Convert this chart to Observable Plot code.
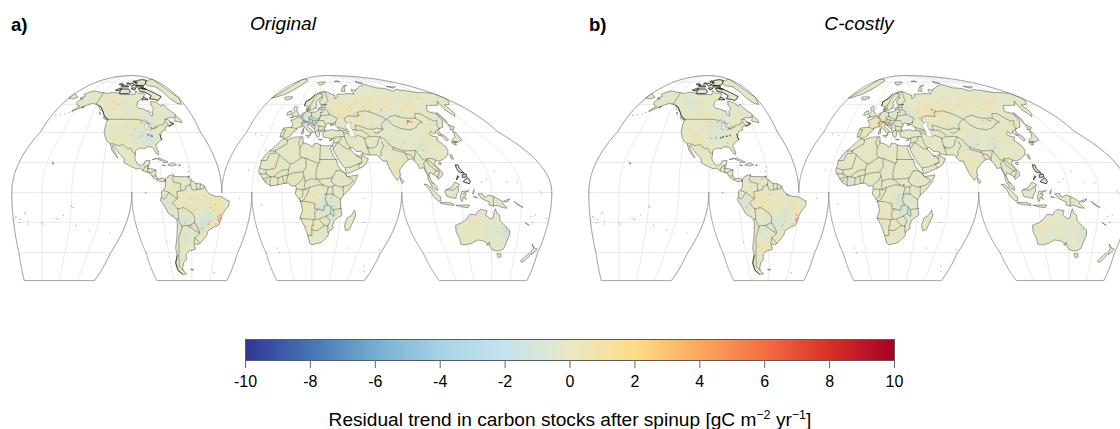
<!DOCTYPE html>
<html><head><meta charset="utf-8">
<script src="https://cdn.jsdelivr.net/npm/d3@7"></script>
<script src="https://cdn.jsdelivr.net/npm/@observablehq/plot@0.6"></script>
<style>
html,body{margin:0;padding:0;background:#fff}
#page{position:relative;width:1120px;height:429px;overflow:hidden;font-family:"Liberation Sans",Arial,sans-serif;color:#000}
#page>svg,#page>div{position:absolute}
.soft{filter:blur(2.4px)}
sup{font-size:12.5px;line-height:0}
</style></head><body><div id="page"></div>
<script>
// ---------- data: land outlines in lon/lat ----------
const northAmerica=[[-166,68.5],[-162,70],[-156.5,71.3],[-150,70.5],[-141,69.6],[-135,69],[-128,70],[-122,69.8],[-115,68],[-108,68],[-102,68],[-96,68],[-94,71.5],[-90,69],[-85,69.5],[-81.5,68.5],[-85,66],[-87,64.5],[-93,62],[-94.5,59],[-92.5,57],[-88,56.5],[-85,55.3],[-82,55],[-82,52.9],[-80,51.2],[-79,52],[-79,54.5],[-76.5,57],[-78,59],[-77.5,62.4],[-73,62],[-70,61],[-67,58.5],[-64.5,60.3],[-61,56],[-56,52.5],[-59,50],[-65,50.2],[-69,48.5],[-65,49],[-64.5,47.5],[-61,46],[-64,44.5],[-66,44],[-66,45],[-70,43.5],[-70,41.7],[-74,40.6],[-75.5,38],[-76,36.9],[-75.5,35.2],[-78,33.9],[-81,32],[-81.4,30.5],[-80,26.8],[-80.5,25.2],[-81.8,26],[-82.8,28],[-84,30],[-86,30.4],[-89,30.3],[-90,29.2],[-94,29.6],[-97,28],[-97.4,25],[-97.8,22.5],[-96,19],[-94.5,18.2],[-91.8,18.5],[-90.5,21],[-87,21.5],[-87.5,19],[-88.5,17],[-88.8,15.9],[-86,15.9],[-83.3,15],[-83.7,11],[-82,9],[-79.5,9.6],[-77.4,8.7],[-77.8,7.5],[-80,7.3],[-81,7.5],[-83,8.3],[-85.7,10],[-87.6,13],[-91.5,14],[-94.5,16.2],[-97,15.8],[-101,17.5],[-105.5,20],[-105.5,22.5],[-109,25.5],[-112.5,29.5],[-114.7,31.5],[-114.7,30],[-112,26],[-110,23],[-112,24.8],[-115,28],[-117,32.5],[-120.5,34.5],[-122.5,37.5],[-124.3,40.5],[-124,46],[-122.8,49],[-127,51],[-130,54.5],[-134,58],[-139,60],[-146,60.8],[-152,59],[-158,56.5],[-163,54.8],[-158,58.5],[-162,59.5],[-165,61.5],[-164,63.5],[-161,64.5],[-166,65],[-162,66.5],[-166,68.5]];
const southAmerica=[[-77.4,8.7],[-75.5,10.8],[-72,12],[-71.5,10.8],[-68,10.6],[-64,10.5],[-62,10.7],[-60,8.5],[-57,6],[-54,5.8],[-51.5,4.3],[-50,1],[-48.5,-0.8],[-44.5,-2.5],[-40,-2.9],[-37,-4.8],[-35,-5.5],[-35,-9],[-37.5,-12],[-39,-15],[-39.5,-18],[-41,-22],[-44,-23],[-48,-25.5],[-48.7,-28.5],[-52,-32.5],[-54,-34.5],[-58,-34.5],[-57,-38],[-62,-39],[-65,-41],[-65,-45],[-67.5,-46.5],[-69,-51],[-68.5,-52.5],[-65.5,-55],[-70,-55.3],[-74,-52.5],[-75.5,-47],[-73,-42],[-73.5,-37],[-71.5,-30],[-70.2,-20],[-71,-17.5],[-76,-14],[-79,-8],[-81.2,-5],[-80,-2.5],[-80.2,0.5],[-78.5,2],[-77.5,4],[-77.5,7.5],[-77.4,8.7]];
const africa=[[-5.8,35.8],[-2,35.2],[3,36.9],[10,37.2],[11,34],[10.3,33.5],[15,32.3],[19,30.3],[20,32.5],[23,32.7],[25,31.6],[29,31],[32,31.2],[34.2,31.3],[32.5,29.9],[35,24],[37.2,21],[37.5,18.5],[39.5,15.5],[43,12.3],[44,10.5],[51.2,11.8],[49,7],[45,2],[41,-1.8],[39,-5],[39.5,-10],[40.7,-15],[36,-18.5],[35,-22],[35.5,-24],[32.7,-26],[32.3,-29],[28,-33],[25,-34],[20,-34.8],[18.3,-33.8],[17,-29],[14.5,-22],[11.8,-17],[13.6,-12],[13,-8],[12,-5],[9,-1],[9.7,3.5],[8.5,4.5],[6,4.3],[4.5,6.3],[1,6],[-3,5],[-7.5,4.4],[-11,6.5],[-13.5,9.5],[-17,14.7],[-16.5,19],[-17,21],[-14.5,26],[-13,27.7],[-9.8,31],[-8,33.5],[-5.8,35.8]];
const eurasia=[[-9,37],[-9.5,38.8],[-9,43],[-2,43.5],[-1.2,45.5],[-4.5,48.4],[-1.5,48.8],[1.5,50.5],[4,52],[5.5,53.3],[8.5,54],[8.2,57],[10.5,57.6],[10,54.6],[14,54],[19,54.4],[21,55.5],[21.5,57.5],[24,57.2],[23.5,59.3],[30,59.9],[23,60],[21.5,61.5],[21.5,63.5],[25,65.5],[22,65.8],[17.5,62],[17.5,60.5],[18.5,59.5],[16.5,56.5],[14,55.5],[12.7,56],[11,59],[8,58],[5.5,59],[5,62],[10,64.5],[14,68],[20,70],[26,71],[31,70],[41,67],[40,64.5],[44,66],[44,68.3],[54,68.5],[60,69],[68,68.5],[67,71.5],[70,73],[73,71],[75,72.5],[81,73.5],[88,75.5],[100,77],[105,77.5],[113,74],[125,73.5],[130,71],[140,72.5],[150,71.5],[160,69.7],[170,69.8],[180,69],[180,65],[177,62.5],[170,60],[163,59.5],[162,56],[160,53],[156.7,51],[155.7,56],[160,60.5],[163,62.5],[155,59.3],[142,59.2],[135,54.7],[141,53],[140,48],[135,43.5],[130,42.5],[127.5,39.8],[129.5,37],[129,35],[126.5,34.5],[126.5,37.5],[124.5,40],[121.5,39],[121.5,40.8],[118,39],[119,37.5],[122.5,37],[119.5,35],[122,31],[121.5,28],[119,25],[114,22.3],[110.5,21],[108,21.6],[106,19],[109,14],[109,11.5],[105,8.7],[105,10.5],[102,12.5],[100.7,13.5],[99.5,11],[100.5,7],[103.5,4],[104,1.4],[101,3],[98.5,8],[98.5,12],[97.5,16.5],[94.5,16],[94,19],[91.5,22.5],[88.5,21.7],[87,21],[85,19.5],[80.3,15],[80,11],[77.5,8],[75,12],[73,18],[72.7,21],[70,21],[69,22.5],[67,25],[61.5,25],[57,25.8],[56.5,27],[52,27.5],[50,30],[48,30],[48,28.8],[50,26.5],[51.5,25],[54,24.2],[56.3,26],[56.5,24.5],[59.8,22.5],[57.7,19],[55,17],[52,15.7],[45,12.8],[43.4,12.7],[42.7,16],[39,21],[35,28],[34.9,29.5],[34.2,31.3],[35,33],[36,36],[32.5,36],[30.5,36.5],[27.3,37],[26.3,39.5],[29,41],[35,42],[38,41],[41.5,41.5],[39,44],[37,45.2],[38.5,47],[35,46],[33.5,46],[36.5,45.3],[33.5,44.5],[33,46],[30.7,46.5],[28.7,44.5],[28,42],[29,41.2],[26.2,40.8],[23.5,40.5],[24,38],[22.8,36.6],[21.2,37.5],[19.4,41],[19,42.2],[15,44.5],[13.7,45.6],[12.3,45.3],[12.5,44],[16,41.7],[18.5,40.2],[16.8,40.3],[16,38],[15.7,40],[12.3,41.7],[10.3,43.5],[8.7,44.4],[5,43.3],[3,42.8],[3.2,41.8],[0,39.7],[-0.5,38],[-2,36.8],[-5.5,36],[-6.5,37],[-9,37]];
const australia=[[114,-22],[113.5,-26],[115,-31],[115,-34.3],[118,-35],[123.5,-34],[129,-31.6],[134,-32.5],[137.7,-35],[135.8,-35],[138,-33],[138.5,-35.5],[140,-38],[143.5,-38.8],[146.5,-39],[150,-37.5],[151.5,-33.5],[153.5,-28],[153,-25],[149.5,-22],[146,-19],[145.3,-15],[143.5,-14],[142.5,-10.8],[141.5,-13],[141,-17],[139,-17.5],[135.8,-15],[136.8,-12.2],[132.5,-11.3],[130,-13],[129,-15],[125,-14.5],[122,-18],[119,-20],[114,-22]];
const greenlandWest=[[-40,65],[-43,60],[-48,61],[-52,65],[-54,70],[-58,75],[-68,76],[-73,78],[-65,81],[-55,82.5],[-40,83.3]];
const greenlandEast=[[-39.99,83.3],[-30,83.6],[-18,81.5],[-18,77],[-22,72],[-27,68.5],[-37,65.5],[-39.99,65]];
const arcticCanada=[
[[-62,66],[-68,63],[-72,64],[-78,64.5],[-74,67],[-80,70],[-88,71],[-89,73.5],[-80,73.7],[-72,71],[-67,69]],
[[-117,69],[-105,68.8],[-102,70],[-105,73],[-117,73]],[[-125,72],[-118,74],[-116,73],[-120,71.5]],
[[-90,76.5],[-78,76.5],[-72,78.5],[-62,82],[-70,83],[-85,82],[-92,80.5]],[[-92,75],[-80,74.6],[-80,75.8],[-92,76.5]],
[[-117,75],[-106,75],[-106,76],[-117,76.3]],[[-100,73],[-96,72],[-93,74],[-100,74]],[[-87,63.7],[-80,63.7],[-84,65.8]],
[[-100,76],[-94,77],[-100,79],[-104,78]],[[-124,77.5],[-116,76.5],[-117,78],[-122,78.2]],[[-110,78],[-104,78.5],[-108,79]],[[-96,80],[-88,79],[-90,81.3],[-95,81.3]],[[-84,74],[-78,73],[-76,72.5],[-82,72.8]]];
const atlanticCanada=[[[-59,47.7],[-53,46.7],[-53,48.5],[-56,51.5]],[[-128,50],[-125,48.6],[-123.5,48.5],[-127,50.8]],[[-133,54],[-131.5,53],[-132,52.5]]];
const caribbean=[[[-85,22],[-80,23],[-75,20.7],[-74.2,20.2],[-77.5,19.9],[-78,21],[-82,22.6]],[[-74.5,18.5],[-71,19.9],[-68.5,18.5],[-71.5,17.7]],[[-78.3,18.3],[-76.3,18.2],[-77,17.8]],[[-67.2,18],[-65.7,18.3],[-66,18.5]],[[-61.8,10.2],[-61,10.1],[-61,10.8]],[[-156,19.8],[-155,19.6],[-155.7,19]],[[-61,-51.5],[-58,-51.5],[-59,-52.3]],[[-154.5,57.5],[-152.5,57.3],[-153,58.3]]];
const europeIslands=[[[-5.5,50],[1,51.2],[1.7,52.7],[-1,54.7],[-2,56],[-2,57.6],[-3.5,58.6],[-5.2,58.5],[-6,56.5],[-3.2,54.8],[-4.5,53.3],[-5,51.8],[-3,51.2]],[[-10,52],[-6.3,52.2],[-6,54],[-7,55.2],[-10,54.2]],[[-24,65.5],[-22,64],[-18.7,63.4],[-14,64.7],[-15,66.2],[-20,66]],[[11,79],[16,76.7],[24,78],[27,80],[18,80.2]],[[52,71],[57,70.7],[60,75],[68,76.8],[60,76],[54,73]],[[95,79],[105,78.5],[100,81]],[[137,75.5],[150,75],[142,74]],[[48,80.5],[60,80.5],[55,81.5]],[[12.5,38],[15.5,38.2],[15,36.7]],[[8.3,39],[9.7,39.2],[9.5,41.2],[8.3,40.9]],[[8.6,41.5],[9.5,41.5],[9.4,43]],[[23.5,35.4],[26.3,35.2],[25,35]],[[32.3,34.8],[34.5,35.6],[33.5,34.6]],[[10,57],[12.5,55.5],[12,54.8],[10,55.5]],[[18,57],[19,57.8],[18.5,57]]];
const philippines=[[[120,16],[120.7,13.8],[124,12.8],[122,16],[122,18.4],[120.7,18.5]],[[122,7],[125.5,5.8],[126.5,7.5],[125.5,9.8],[123,8.5]],[[122,10],[125,10.5],[125,12.3],[122.5,11.8]],[[117.5,8.5],[119.5,10.5],[119,11]]];
const asiaIslands=[[[142,46],[143.5,49],[143,54],[142,53.5],[142,50]],[[130.9,34],[135,33.6],[140,35],[141.8,39.5],[141,41.3],[139.8,39.5],[137,37],[132.5,35.3]],[[140,42],[143,42],[145.3,43.5],[141.8,45.5],[141.3,43]],[[130,32],[131.5,31.5],[131.8,33.5],[130,33.5]],[[132.5,33.8],[134.5,33.8],[133,33]],[[120.2,23],[121,22],[122,25],[121,25.2]],[[108.8,19],[110,18.3],[111,19.7],[110,20.1]],[[95.3,5.5],[97.5,5.2],[100.5,2.2],[103.7,-1],[106,-3],[105.8,-5.8],[104,-5.5],[101,-2.5],[98.7,1.7]],[[105.3,-6.8],[108.5,-6.6],[111,-6.5],[114.5,-7.7],[114.5,-8.7],[108,-7.8]],[[109,1.5],[111,2.5],[113,3.2],[116,7],[119,5.2],[117.7,3.5],[118,1],[116.5,-1.5],[116,-4],[113,-3.3],[110.2,-2.8],[109,0]],[[119.5,-5.5],[119,-3],[120,0.7],[124,1],[125,1.5],[121,-0.8],[123,-1],[122,-3],[123,-4.8],[121,-3],[120.5,-5.5]],[[116,-8.5],[119,-8.4],[125,-8.3],[124,-10.2],[119.5,-9.5]],[[131,-0.8],[134,-0.8],[135,-3.3],[138,-1.7],[141,-2.6],[145.5,-5],[147.7,-6.5],[147,-7],[150.5,-10.5],[147,-10],[143.5,-8.5],[141,-9],[138,-8.3],[138.5,-6.5],[133,-4],[132,-2.5]],[[148,-5.7],[152,-4.2],[151,-6],[149,-6.3]],[[127.5,-1],[128.5,2],[127.8,1]],[[128,-3],[130.5,-3.5],[129,-2.8]],[[155,-6],[157,-8],[159,-9],[161,-10]],[[80,9.7],[81.8,7.5],[80.6,6],[79.8,7.5]],[[49.3,-12],[50.4,-15.5],[47.5,-24.8],[45,-25.5],[43.5,-22],[44.5,-17],[47,-15.5]],[[144.8,-40.8],[148.3,-40.9],[148,-43],[146,-43.5]],[[172.8,-34.5],[175.5,-37],[178.5,-37.7],[176.8,-40],[175,-41.5],[174,-39.5],[174.8,-37.5]],[[172.7,-40.6],[174.3,-41.7],[171,-45],[168.5,-46.7],[166.5,-46],[168.5,-44]],[[165,-21],[167,-22],[164,-20.2]],[[-180,65],[-173,64.3],[-170,66],[-175,67.3],[-180,68.8]]];
const lakes=[[[47,45],[50,46.8],[53,46.5],[51,44.5],[52.5,42],[53.5,40],[54,37],[50,37.3],[49,38.5],[49.5,40.5],[47.5,43]],[[-92,46.8],[-85,46.7],[-85,48],[-88.5,48.6]],[[-87.8,42],[-86.3,42],[-85,45.7],[-87.5,45.5]],[[-84,43.5],[-81.8,43.2],[-80,44.8],[-81,46],[-84,46]],[[-83.4,41.7],[-79,42.7],[-79.5,42.9],[-83,42.2]],[[-79.5,43.4],[-76.2,43.5],[-76.5,44.2],[-79,43.9]]];
// ---------- data: country borders in lon/lat ----------
const bordersAmericas=[[[-141,69.6],[-141,60],[-137,59],[-134,56],[-130,54.8]],[[-122.8,49],[-95,49],[-89,48],[-84.5,46.5],[-82.5,45],[-82.5,42.5],[-79,43],[-76.5,44.2],[-74.7,45],[-71,45.3],[-69,47.4],[-67.8,47],[-67,45]],[[-117,32.5],[-114.7,32.5],[-111,31.3],[-106.5,31.8],[-103,29],[-101,29.8],[-99,26.5],[-97.2,25.9]],[[-92.2,14.5],[-91,17.2],[-89.2,17.8],[-88.3,18.5]],[[-89.2,17.8],[-89,15.9]],[[-88.8,15.9],[-89.5,14],[-87.8,13.3]],[[-87.5,13],[-85,14.5],[-83.2,15]],[[-85.7,11],[-83.7,11]],[[-83,8.3],[-82.6,9.5]],[[-77.3,8.6],[-77.8,7.3]],[[-71.5,11.8],[-72.5,9],[-72,7],[-67.5,6],[-67.5,2],[-66.9,1.2]],[[-66.9,1.2],[-70,0.5],[-69.5,-4.2]],[[-78.8,1.4],[-75.2,0],[-70,-4.2]],[[-66.9,1.2],[-64,2],[-64,4],[-60.8,5.2]],[[-60,8.5],[-60.8,5.2]],[[-60.8,5.2],[-59.8,2],[-58,1.5],[-56.5,2]],[[-57,6],[-56.5,2]],[[-54,5.8],[-54.5,2.3]],[[-56.5,2],[-54.5,2.3],[-52,2.5],[-51.5,4.3]],[[-80.3,-3.4],[-78.5,-4.5],[-75.2,0]],[[-70,-4.2],[-73,-7],[-70.6,-10],[-69.5,-11]],[[-69.5,-11],[-69,-16],[-69.5,-17.5]],[[-70.4,-18.3],[-69.5,-17.5]],[[-69.5,-11],[-65.5,-10],[-60,-13.5],[-58,-16.5],[-58,-20]],[[-58,-20],[-62.5,-22]],[[-62.5,-22],[-66,-22],[-67,-23]],[[-69.5,-17.5],[-68,-21],[-67,-23]],[[-67,-23],[-70,-30],[-70.5,-36],[-71.5,-42],[-72,-50],[-68.5,-52.3]],[[-62.5,-22],[-57.8,-25.3],[-54.6,-27]],[[-58,-20],[-55.5,-24],[-54.6,-25.6]],[[-54.6,-25.6],[-54,-27.2],[-57.6,-30.2]],[[-57.6,-30.2],[-53.5,-33.8]],[[-57.6,-30.2],[-58.4,-34]]];
const bordersAfrica=[[[-2,35],[-1.5,32.5],[-8.7,28]],[[-13,27.7],[-8.7,27.7]],[[-8.7,27.7],[-8.7,26],[-12,26],[-13,21.3],[-17,21.3]],[[-8.7,27.3],[-4.8,25],[1,21],[4.2,19.2],[6,19.4],[12,23.5],[14,22.7]],[[-4.8,25],[-6,16],[-12,15],[-16.4,16.3]],[[-12,15],[-11.5,12.4]],[[-11.5,12.4],[-8,10.5],[-5.5,10.4],[-2.8,9.8],[0,11],[3.6,11.7],[3.5,15.3],[4.2,19.2]],[[-5.5,10.4],[-5,11.8],[-2,14.2],[0,15],[3.5,15.3]],[[-3,5],[-2.8,9.8]],[[1.2,6],[0,11]],[[2.7,6.3],[3.6,11.7],[7,13],[13.5,13.7],[14.5,11],[13,8],[9,4.5]],[[13.5,13.7],[15.5,16.9],[15,22.7]],[[25,31.6],[25,22]],[[25,22],[37,22]],[[14,22.7],[15,22.7],[24,19.5],[25,20],[25,22]],[[8.5,37],[7.5,33],[9.5,30.2]],[[11.3,33],[9.5,30.2],[10,24.5],[12,23.5]],[[24,19.5],[22.5,13],[23,9]],[[14.5,11],[15.5,7.5],[19,9],[23,9]],[[15.5,7.5],[15,4],[16,2]],[[16,2],[18.5,3.5],[24,5],[27.5,5]],[[23,9],[27.5,5]],[[24,8.8],[33,9.5],[34,10.5]],[[36.5,14.5],[34,10.5],[33,7.5]],[[36.5,14.5],[40,14.5],[43,12.4]],[[43,11.5],[48,8],[45,5],[41,4]],[[35.5,5],[39,3.5],[41,4]],[[41,4],[41,-1.8]],[[33,7.5],[35.5,5],[34,4],[31,3.5],[27.5,5]],[[34,4],[34,-1]],[[34,-1],[39.2,-4.7]],[[31,3.5],[29.7,-1.3]],[[29.7,-1.3],[29,-4.5],[30.5,-8.2]],[[29.7,-1],[34,-1]],[[18.5,3.5],[17,-1],[14.5,-5],[12.2,-5.9]],[[9.8,2.3],[16,2]],[[14,2.2],[14,-2],[11.5,-4.5]],[[12.2,-5.9],[17,-6],[22,-7.5],[22,-11],[24,-11]],[[24,-11],[28,-12],[28.5,-9],[30.5,-8.2]],[[24,-11],[22,-13],[22,-16.5],[23.5,-17.8]],[[11.8,-17.3],[21,-18],[23.5,-17.8]],[[25,-17.8],[30,-15.7]],[[30.5,-8.2],[33,-9.5],[34.5,-11.5],[40.5,-10.5]],[[33,-9.5],[33,-14],[35,-16],[35.5,-14.5],[34.5,-11.5]],[[30,-15.7],[33,-14]],[[30,-15.7],[33,-19],[31.5,-22.3]],[[25,-17.8],[29,-22]],[[29,-22],[31.5,-22.3]],[[31.5,-22.3],[32,-26.8]],[[21,-18],[21,-22],[20,-22],[20,-28.5]],[[20,-28.5],[17,-28.7]],[[20,-25],[24,-25.5],[29,-22]],[[-16.7,12.4],[-11.5,12.4]],[[-13.3,9],[-10.5,10],[-8,10.5]],[[-11.4,6.9],[-10.5,8.5]],[[-7.5,4.4],[-8.3,7.5],[-8,10.5]]];
const bordersEurope=[[[11.2,59],[12.5,61],[14,65],[18,68.5],[20.6,69]],[[24,65.8],[24,68],[20.6,69]],[[20.6,69],[28,70]],[[28,60.5],[31.5,62.9],[29,66.9],[28.5,69]],[[28,59.5],[28,56],[31,55],[32,53],[32,52.2]],[[24,57.9],[27.5,57.5]],[[21,56.3],[26,56]],[[26,56],[26,54],[23.5,54]],[[14.2,54],[15,51]],[[23.5,54],[23.7,51.5],[22.5,49]],[[15,51],[19,49.5],[22.5,49]],[[15,51],[12.2,50.2],[13.8,48.7]],[[13.8,48.7],[13,47.5],[9.7,47.5]],[[6,49.5],[8.2,49],[7.5,47.6]],[[7,53.3],[6,51],[6,49.5]],[[2.5,51],[6,49.5]],[[3.5,51.4],[6,51.2]],[[8.5,54.9],[9.8,54.8]],[[7.5,47.6],[9.7,47.5],[10.4,46.8],[8.5,46],[6,46.3],[7.5,47.6]],[[7.5,43.8],[7,46]],[[10.4,46.8],[13.7,46.5],[13.7,45.6]],[[-1.8,43.4],[3,42.5]],[[-8.8,42],[-6.5,41.7],[-7,38],[-7.4,37.2]],[[13.8,48.7],[17,48.7],[16.2,46.8],[13.7,46.5]],[[17,48],[22.5,48.2],[20.3,46.2],[16.5,46.5]],[[22.5,48],[26.7,48.2],[28.2,46],[29.7,45.2]],[[20.3,46.2],[22.7,44.3],[28.6,43.7]],[[22.5,49],[23.7,51.5],[32,52.2],[34,52.3],[40,49.6],[38.2,47.1]],[[22.5,41.3],[26.3,41.7],[28,42]],[[22.7,44.3],[22.5,41.3]],[[15.7,46],[19.2,45],[19,42.5]],[[20,39.7],[21,41],[22.5,41.3]],[[16,45],[19.2,44.5]]];
const bordersAsia=[[[36,36.8],[42,37.2],[44.8,37.3],[44.5,39.7],[43.5,41.2],[41.5,41.5]],[[36,33],[38.8,33.4],[41,34.5],[42,37.2]],[[44.8,37.3],[46,33],[48,30]],[[38.8,33.4],[44.8,29.2],[48,29]],[[35,29.4],[37,31.5],[38.8,33.4]],[[43,16.5],[47,17],[52,19],[55,20]],[[51.5,24.6],[55,22.7],[55,20],[52,19],[53,16.7]],[[55,22.7],[56,24.5]],[[40,43.5],[44,42.7],[48.5,41.8]],[[43.5,41.2],[46.5,41.2],[49.5,40.4]],[[44.8,39.7],[48,39.5],[49,38.4]],[[54,37.3],[56,38.2],[61,36.5]],[[61,36.5],[61,31.5],[62.7,29.5]],[[61,31.5],[61.7,25.2]],[[60.9,29.8],[66,29.7],[69.5,31.5],[71,34],[74.5,37]],[[61,35.5],[64,37],[67,37.3],[71.5,37.5],[74.5,37]],[[53,42],[58,41.5],[61,41.5],[66,38]],[[56,41.3],[56,45],[61,44],[66,42.5],[70.5,42]],[[70.5,42],[75,43],[80,42.2]],[[71,40],[74,39.5],[80,42.2]],[[80,42.2],[80,45],[83,47],[87,49]],[[49,46.5],[47,48],[47,50],[52,51.5],[61,51],[61,54],[70,55.2],[77,53.5],[84,51],[87,49.2]],[[87.8,49],[92,50.8],[98.5,52],[102,50.5],[107,49.8],[116,49.8],[119.8,47],[115,46],[111,43.5],[104,41.7],[96,42.7],[91,45],[87.8,49]],[[116,49.8],[120,53.2],[125,53],[131,47.8],[135,48.3],[131,45],[130.7,42.5]],[[130.7,42.5],[126,41],[124.3,39.9]],[[124.8,38],[128.3,38.6]],[[74.5,37],[78,35],[79,32],[81,30.2],[88,27.8],[92,27.8],[97,28],[98,25],[99,22],[101.5,21.2],[102,22.5],[106,22.8],[108,21.6]],[[74,34],[74.5,31],[71,28],[70,25],[68.5,23.8]],[[81,30.2],[80,28.8],[88,26.5],[88,27.8]],[[88.2,26],[88.5,22]],[[88.2,26],[92,25],[92.5,22.5]],[[97,28],[94,24],[92.5,21.5]],[[101.5,21.2],[98.5,19.7],[98,15],[99.2,11]],[[101.5,21.2],[102,18],[105.5,14.5]],[[102,22.5],[104,20],[107.5,15]],[[105.5,14.5],[107.5,14.5],[106,11],[104.5,10.4]],[[102.5,12],[105.5,14.5]],[[100.3,6.5],[102,6.2]],[[109.7,1.8],[114,1.5],[117.5,4]],[[141,-2.6],[141,-9]]];
// dense, nearly black coast stretches (fjords and archipelagos)
const fjordCoasts=[[[-123,49],[-127,51],[-130,54.5],[-134,58],[-137,59]],[[-73,-42],[-75,-47],[-74,-52],[-70,-55]],[[-76,39],[-76,36.9],[-75.6,35.2]],[[-66,44.5],[-61,46],[-64,47]],[[5,59],[5,62],[10,64.5],[14,68]]];
// tiny oceanic islands [lon, lat]
const islandLon=[-172,-170,-176,-178,-159,-157,-152,-150,-149,-145,-140,-139,-135,-125,-109,-90.5,-91,-80,-160,-170,-175,-178,-180,-171,178,170,167,169,172,173,158,151,145,134,138,73,57,55,-25,-24,-16,-14,-8,-9,-31,-28,-60,-61,-37,70,51,77,-176,-172,-168,-165,-162];
const islandLat=[-14,-19,-20,-17,-21,21,-17,-17,-18,-15,-9,-10,-22,-25,-27,-0.5,0,-33,-20,-21,-18,-16,-19,-13,-17,-15,-16,-20,1,-0.5,7,7,14,7,9,-53,-20,-4,38,15,28,-8,-40,-37,39,-4,17,14,-54,-49,-37,-38,51.8,52.3,53,54,55];
// residual-trend patches: broad tints [lon, lat, value]
const softA=[[-55,-5,1.5],[-62,-8,1.5],[-68,-3,1.2],[-48,-15,-2.5],[-50,-20,-2.9],[-54,-23,-2.9],[-42,-10,1.8],[-45,-5,1.8],[-76,-7,-2.5],[-64,-28,-2.4],[-65,-18,-2.6],[-95,38,-2.5],[-100,47,1.4],[-85,36,-2.8],[-110,38,1.2],[-85,48,-1.6],[-120,60,1.3],[-100,55,-1.3],[30,-7,-3.2],[27,-11,-3],[20,-5,1.4],[22,-20,1.4],[15,-10,1.4],[33,-15,-2.6],[5,10,1.2],[-5,15,0.9],[50,56,1.6],[40,58,1.4],[75,60,1.6],[100,62,1.3],[120,60,1.1],[15,50,-2.6],[10,47,-2.8],[25,55,-1.6],[105,32,-2.5],[85,33,-1.5],[112,36,1.2],[140,-25,-1.6],[150,-27,-2.8],[125,-25,1.1],[78,20,1.1],[60,47,1.3],[85,50,-1.5],[-3,40,1.3]];
const softB=[[-55,-5,1.5],[-62,-8,1.3],[-70,-2,1.5],[-48,-16,-2.4],[-52,-22,-2.5],[-42,-10,1.6],[-65,-5,1.4],[-76,-7,-2.4],[-65,-35,1.5],[-65,-25,-1.8],[-95,40,-2.1],[-100,50,1.3],[-110,36,1.5],[-90,45,-1.5],[-120,60,-1.5],[-60,-20,-2],[27,-5,-3],[30,-11,-3],[15,-15,1.6],[22,-25,1.4],[33,-15,-2],[5,15,1.2],[-7,8,-2.8],[50,55,1.4],[35,52,-2],[75,58,1.4],[105,62,1.4],[125,60,1.3],[10,46,1.8],[15,52,-2.2],[-3,40,1.8],[5,47,1.8],[100,32,-2.6],[85,34,-1.8],[112,38,1.2],[140,-25,-1.6],[150,-27,-2.5],[125,-27,-1.4],[120,-22,1.2],[78,20,1.2],[60,50,1.5]];
// scattered small cells [lon, lat, value]
const speckleA=[[-110,50,2],[-105,45,-2.5],[-98,42,-3],[-90,40,-3],[-78,45,2],[-118,44,2.2],[-108,33,2],[-100,28,2.3],[-122,62,2.5],[-108,62,-2],[-95,58,2],[-80,50,-2],[-60,-3,2.5],[-72,5,2.4],[-52,-2,2.4],[-66,-12,2.6],[-44,-8,3],[-58,-12,2.6],[-47,-10,2.8],[-64,-34,-2.8],[-69,-40,-2.8],[-70,-22,-3],[5,25,1.8],[20,18,1.8],[35,25,1.8],[-8,20,1.6],[40,8,2.5],[25,8,2.5],[14,2,2],[22,-2,2.4],[34,-2,-3.5],[37,-6,-3],[26,-17,2],[18,-28,2.2],[28,-28,-2.2],[30,50,-2.5],[42,52,2.5],[55,58,3],[65,63,2.5],[80,64,2.2],[95,58,2.5],[110,55,2.4],[130,63,2],[145,65,2.2],[72,45,2.6],[65,40,2.2],[50,32,2],[45,25,1.8],[75,30,2.2],[85,25,2],[95,25,-2.5],[100,38,-2.5],[118,32,2],[125,45,2],[105,18,2.2],[115,0,-2],[130,-20,2],[135,-30,-2],[145,-32,-2.4],[118,-30,1.8]];
const speckleB=[[-110,52,2],[-105,43,-2.5],[-98,47,-2.6],[-88,42,-3],[-76,46,2],[-118,42,2.4],[-105,30,2.4],[-100,25,2.2],[-125,62,-2],[-108,60,2.2],[-92,58,-2.2],[-82,52,-2],[-60,-1,2.5],[-72,4,2.5],[-66,6,3],[-66,-10,2.4],[-44,-7,2.8],[-58,-10,2.4],[-47,-12,-2.5],[-68,-36,2.6],[-62,-30,-2.6],[-70,-42,2.8],[8,25,1.8],[22,20,1.6],[35,22,1.8],[-10,22,1.6],[40,10,2.4],[22,8,2.4],[14,-2,2.4],[22,-8,2.2],[27,-2,-3.5],[34,-5,-3],[24,-18,2.4],[20,-30,2],[28,-27,-2.4],[33,48,-2.6],[45,54,2.5],[55,60,2.4],[70,62,2.4],[82,66,2.2],[92,60,2.2],[112,58,2.4],[132,62,2.2],[148,66,2],[70,45,2.6],[62,42,2.2],[52,33,2],[42,26,1.8],[76,28,2],[85,27,2],[96,28,-2.6],[104,36,-2.5],[118,34,2],[127,46,2],[106,16,2],[114,-1,-2],[130,-18,2],[135,-32,-2],[148,-32,-2.2],[118,-28,-2]];
// strong single-cell residuals [lon, lat, value]
const hotA=[[-40.5,-15,5],[-40.3,-17,5.5],[-41,-19,5],[-41.5,-18,5.5],[-42,-16,4.5],[-43,-21,4.5],[-48,-21,4.5],[-52,-24,4.5],[-47,-19,4],[-60,-22,5.5],[-62,-23,4.5],[-45,-12,3.5],[-86,38.5,-8],[-83,37.5,-8],[-84,38,-7],[-92,37.5,-5],[-100,38,-4],[-93,62,3.5],[-115,60,3.5],[108,47.5,7.5],[107,48,7],[105,46.5,5],[110,47,5],[75,55,4],[88,56,4.5],[70,58,3.5],[62,52,4.5],[58,53,3.5],[101,51,-5],[30,-6,-4.5],[33,-4,-4],[29,-1,4.5],[35,-9,-4.5],[9,48,-6],[13,50,-5],[20,47,-4.5],[150.5,-24,-5],[151,-26,-4.5],[75,40,-4.5],[92,33,-4.5],[103,28,-4.5],[-73,-15,-4.5],[-65,-20,-4.5]];
const hotB=[[-40.5,-17,4.5],[-40.7,-19,5],[-41,-18,5.5],[-41,-15,4.5],[-43,-21,3.5],[-50,-22,4],[-49,-19,3.5],[-64,9,4.5],[-62,-14,3.5],[-47,-2,-6],[-48,-1,-8],[-85,37.5,-9],[-88,37,-9],[-90,36.5,-8],[-94,36.5,-6],[-98,36,-5],[-82,38,-8],[-160,21,9],[-100,45,3.5],[-85,33,3.5],[112,48,5.5],[110,48.5,5],[105,48,-4],[60,56,6],[63,55,5],[45,50,3.5],[12,47,5],[15,45,7],[30,5,7],[30,-3,-5],[32,0,-4.5],[100,30,-4.5],[88,32,-4.5],[150,-24,-4.5],[-75,-10,-4.5]];
// colour legend
const scaleValues=[-10,-8,-6,-4,-2,0,2,4,6,8,10];
const scaleColors=["#313695","#4575b4","#74add1","#a6d4e6","#c4e4ee","#e9e8c6","#fedc85","#fca85e","#f46d43","#d73027","#a50026"];
const legendSteps=d3.range(-10,10,0.05);
const graticuleLats=[-40,-20,0,20,40,60,80];
const graticuleLons=d3.range(-180,181,20);
const northLobes=[[-180,-100,-40],[-40,30,180]];
const southLobes=[[-180,-160,-100],[-100,-60,-20],[-20,20,80],[80,140,180]];
const bottomLat=-60;

// ---------- interrupted homolosine ----------
const R=85.94,X0=11.3+540/2,Y0=192;
const PHI=0.7109889596207567,DY=0.0528035274542;
function raw(l,p){
  if(Math.abs(p)>PHI){
    let t=p;const k=Math.PI*Math.sin(p);
    for(let i=0;i<30;i++){const d=(t+Math.sin(t)-k)/(1+Math.cos(t));t-=d;if(Math.abs(d)<1e-8)break;}
    t/=2;
    return [2*Math.SQRT2/Math.PI*l*Math.cos(t),Math.SQRT2*Math.sin(t)-Math.sign(p)*DY];
  }
  return [l*Math.cos(p),p];
}
function homolosine(lon,lat){
  const lobes=lat>=0?northLobes:southLobes;
  const lobe=lobes.find(b=>lon<=b[2])||lobes[lobes.length-1];
  const c=lobe[1]*Math.PI/180;
  const [x,y]=raw(lon*Math.PI/180-c,Math.max(-89.9,Math.min(89.9,lat))*Math.PI/180);
  return [X0+R*(x+c),Y0-R*y];
}
const projection=d3.geoTransform({point(x,y){const p=homolosine(x,y);this.stream.point(p[0],p[1]);}});

// ---------- geometry assembled from the arrays ----------
const closed=r=>r[0][0]===r[r.length-1][0]&&r[0][1]===r[r.length-1][1]?r:[...r,r[0]];
const landRings=[northAmerica,southAmerica,africa,eurasia,australia,greenlandWest,greenlandEast,...arcticCanada,...atlanticCanada,...caribbean,...europeIslands,...philippines,...asiaIslands].map(closed);
const landGeo={type:"MultiPolygon",coordinates:landRings.map(r=>[r])};
const denseGeo={type:"MultiPolygon",coordinates:[...arcticCanada,...philippines].map(r=>[closed(r)])};
const lakeGeo={type:"MultiPolygon",coordinates:lakes.map(r=>[closed(r)])};
const borderGeo={type:"MultiLineString",coordinates:[...bordersAmericas,...bordersAfrica,...bordersEurope,...bordersAsia]};
const fjordGeo={type:"MultiLineString",coordinates:fjordCoasts};
const eps=0.001;
const seq=(a,b,n=60)=>d3.range(n+1).map(i=>a+(b-a)*i/n);
const lobeOutline=[
 ...northLobes.map(([l,,r])=>[...seq(0,89.9).map(p=>[l+eps,p]),...seq(89.9,0).map(p=>[r-eps,p])]),
 ...southLobes.map(([l,,r])=>[...seq(0,bottomLat).map(p=>[l+eps,p]),...seq(bottomLat,0).map(p=>[r-eps,p])])
];
const outlineGeo={type:"MultiLineString",coordinates:lobeOutline};
const gratLines=[];
for(const lat of graticuleLats){for(const [l,,r] of (lat>=0?northLobes:southLobes)) gratLines.push(seq(l+eps,r-eps).map(x=>[x,lat]));}
for(const lon of graticuleLons){
  const clon=Math.max(-179.999,Math.min(179.999,lon));
  gratLines.push(seq(0,89.9).map(p=>[clon,p]));
  gratLines.push(seq(-0.001,bottomLat).map(p=>[clon,p]));
}
const gratGeo={type:"MultiLineString",coordinates:gratLines};
const islands=islandLon.map((x,i)=>({x,y:islandLat[i]}));
const colorScale={type:"linear",domain:scaleValues,range:scaleColors,interpolate:"rgb"};

function mapPanel(soft,speckle,hot,left){
  const svg=Plot.plot({
    width:575,height:300,margin:0,projection,
    color:colorScale,
    marks:[
      Plot.geo(gratGeo,{stroke:"#e6e6e6",strokeWidth:0.9}),
      Plot.geo(outlineGeo,{stroke:"#8f8f8f",strokeWidth:0.8}),
      Plot.geo(landGeo,{fill:"#e4e6c6"}),
      Plot.dot(soft,{x:"0",y:"1",fill:"2",r:5,fillOpacity:0.42,clip:landGeo,className:"soft"}),
      Plot.dot(speckle,{x:"0",y:"1",fill:"2",r:1.3,fillOpacity:0.75,clip:landGeo}),
      Plot.dot(hot,{x:"0",y:"1",fill:"2",r:0.9,symbol:"square",clip:landGeo}),
      Plot.geo(lakeGeo,{fill:"#fff"}),
      Plot.geo(borderGeo,{stroke:"#4a4a4a",strokeWidth:0.5,strokeOpacity:0.9}),
      Plot.geo(landGeo,{stroke:"#333",strokeWidth:0.45}),
      Plot.geo(denseGeo,{stroke:"#222",strokeWidth:0.6}),
      Plot.geo(lakeGeo,{stroke:"#666",strokeWidth:0.3}),
      Plot.geo(fjordGeo,{stroke:"#111",strokeWidth:0.8,strokeOpacity:0.85}),
      Plot.dot(islands,{x:"x",y:"y",r:0.55,fill:"#555",fillOpacity:0.7})
    ]
  });
  svg.style.left=left+"px";svg.style.top="0px";svg.style.background="none";
  return svg;
}
const page=document.getElementById("page");
page.append(mapPanel(softA,speckleA,hotA,0),mapPanel(softB,speckleB,hotB,577));

const legend=Plot.plot({
  width:1120,height:62,marginLeft:245,marginRight:226,marginTop:9,marginBottom:32,
  style:{fontFamily:"'Liberation Sans',Arial,sans-serif",fontSize:"16px",color:"#000",background:"none"},
  x:{domain:[-10,10]},y:{axis:null,domain:[0,1]},
  color:colorScale,
  marks:[
    Plot.rect(legendSteps,{x1:d=>d,x2:d=>Math.min(10,d+0.1),y1:0,y2:1,fill:d=>d,shapeRendering:"crispEdges"}),
    Plot.frame({stroke:"#5a5a5a",strokeWidth:1}),
    Plot.axisX({ticks:scaleValues,tickFormat:d=>String(d),tickSize:8,tickPadding:7,label:null,stroke:"#666",fontSize:16})
  ]
});
legend.style.left="0px";legend.style.top="330px";
page.append(legend);

const labels=[
 {t:"a)",x:11,y:14,st:"font-weight:bold;font-size:18.5px"},
 {t:"b)",x:589,y:14,st:"font-weight:bold;font-size:18.5px"},
];
for(const l of labels){const d=document.createElement("div");d.textContent=l.t;d.style.cssText=`left:${l.x}px;top:${l.y}px;${l.st}`;page.append(d);}
const titles=[["Original",283],["C-costly",859]];
for(const [t,c] of titles){const d=document.createElement("div");d.textContent=t;d.style.cssText=`left:${c-100}px;width:200px;top:13px;text-align:center;font-style:italic;font-size:19.2px`;page.append(d);}
const cap=document.createElement("div");
cap.innerHTML="Residual trend in carbon stocks after spinup [gC m<sup>\u22122</sup> yr<sup>\u22121</sup>]";
cap.style.cssText="left:320px;width:500px;top:409px;text-align:center;font-size:19.1px;white-space:nowrap";
page.append(cap);
</script></body></html>
